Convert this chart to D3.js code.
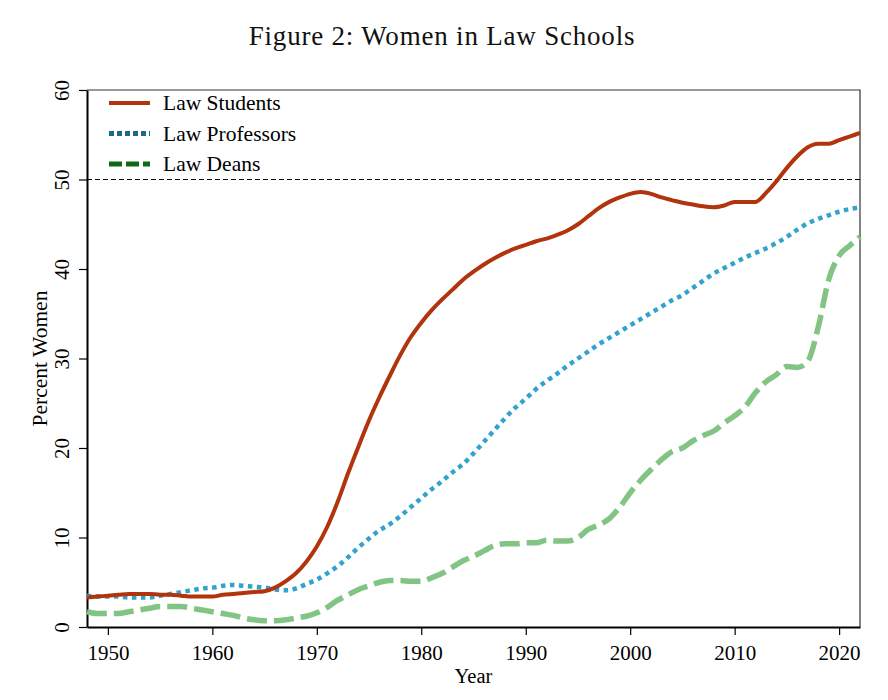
<!DOCTYPE html>
<html>
<head>
<meta charset="utf-8">
<script src="https://cdn.jsdelivr.net/npm/d3@7"></script>
<style>
  body { margin: 0; background: #fff; }
  svg { display: block; font-family: "Liberation Serif", "Times New Roman", serif; }
</style>
</head>
<body>
<div id="chart"></div>
<script>
// years 1948..2022, one value per year (percent women)
const years = d3.range(1948, 2023);

const students = [
  3.3, 3.4, 3.5, 3.6, 3.7, 3.7, 3.7, 3.6, 3.6, 3.5,   // 1948-1957
  3.4, 3.4, 3.4, 3.6, 3.7, 3.8, 3.9, 4.0, 4.4, 5.1,   // 1958-1967
  6.0, 7.3, 9.0, 11.2, 14.0, 17.2, 20.2, 23.1, 25.7, 28.1, // 1968-1977
  30.4, 32.4, 34.0, 35.4, 36.6, 37.7, 38.8, 39.7, 40.5, 41.2, // 1978-1987
  41.8, 42.3, 42.7, 43.1, 43.4, 43.8, 44.3, 45.0, 45.9, 46.8, // 1988-1997
  47.5, 48.0, 48.4, 48.6, 48.4, 48.0, 47.7, 47.4, 47.2, 47.0, // 1998-2007
  46.9, 47.1, 47.5, 47.5, 47.5, 48.5, 49.8, 51.3, 52.6, 53.6, // 2008-2017
  54.0, 54.0, 54.4, 54.8, 55.2                                 // 2018-2022
];

const professors = [
  3.5, 3.4, 3.4, 3.4, 3.3, 3.3, 3.3, 3.5, 3.7, 3.9,
  4.1, 4.3, 4.4, 4.6, 4.7, 4.6, 4.5, 4.4, 4.2, 4.1,
  4.3, 4.8, 5.3, 6.0, 6.8, 7.8, 8.9, 9.9, 10.8, 11.5,
  12.4, 13.4, 14.4, 15.4, 16.3, 17.3, 18.2, 19.4, 20.7, 22.0,
  23.3, 24.5, 25.5, 26.6, 27.5, 28.3, 29.2, 30.0, 30.8, 31.6,
  32.3, 33.0, 33.7, 34.4, 35.1, 35.8, 36.5, 37.1, 37.9, 38.7,
  39.5, 40.1, 40.7, 41.3, 41.8, 42.3, 42.9, 43.6, 44.4, 45.1,
  45.6, 46.0, 46.4, 46.7, 46.9
];

const deans = [
  1.7, 1.5, 1.5, 1.5, 1.7, 1.9, 2.1, 2.3, 2.3, 2.3,
  2.1, 1.9, 1.7, 1.5, 1.3, 1.0, 0.8, 0.7, 0.7, 0.8,
  1.0, 1.2, 1.6, 2.2, 3.0, 3.6, 4.2, 4.6, 5.0, 5.2,
  5.2, 5.1, 5.1, 5.5, 6.0, 6.7, 7.4, 7.9, 8.5, 9.1,
  9.3, 9.3, 9.4, 9.4, 9.7, 9.6, 9.6, 10.0, 10.9, 11.4,
  12.1, 13.4, 15.0, 16.4, 17.6, 18.7, 19.6, 20.0, 20.8, 21.4,
  21.9, 22.8, 23.6, 24.6, 26.2, 27.4, 28.2, 29.1, 29.0, 29.7,
  33.5, 38.8, 41.5, 42.6, 43.6
];

const xTicks = [1950, 1960, 1970, 1980, 1990, 2000, 2010, 2020];
const yTicks = [0, 10, 20, 30, 40, 50, 60];
const seriesNames = ["Law Students", "Law Professors", "Law Deans"];

const W = 888, H = 700;
const margin = { top: 90, right: 28, bottom: 73, left: 87 };
const width = W - margin.left - margin.right;
const height = H - margin.top - margin.bottom;

const x = d3.scaleLinear().domain([1948, 2022]).range([0, width]);
const y = d3.scaleLinear().domain([0, 60]).range([height, 0]);

const svg = d3.select("#chart").append("svg")
  .attr("width", W).attr("height", H);

// title
svg.append("text")
  .attr("x", W / 2 - 2)
  .attr("y", 45)
  .attr("text-anchor", "middle")
  .attr("font-size", "27px")
  .attr("letter-spacing", "0.8px")
  .attr("fill", "#111")
  .text("Figure 2: Women in Law Schools");

const g = svg.append("g")
  .attr("transform", `translate(${margin.left},${margin.top})`);

// frame top / right
g.append("path")
  .attr("d", `M0,0H${width}V${height}`)
  .attr("fill", "none")
  .attr("stroke", "#333")
  .attr("stroke-width", 1.2);

// 50% reference line
g.append("line")
  .attr("x1", 0).attr("x2", width)
  .attr("y1", y(50)).attr("y2", y(50))
  .attr("stroke", "#000")
  .attr("stroke-width", 1)
  .attr("stroke-dasharray", "5,3");

// axes
const xAxis = g.append("g")
  .attr("transform", `translate(0,${height})`)
  .call(d3.axisBottom(x).tickValues(xTicks).tickFormat(d3.format("d"))
    .tickSize(8).tickSizeOuter(0).tickPadding(10));

const yAxis = g.append("g")
  .call(d3.axisLeft(y).tickValues(yTicks).tickSize(8).tickSizeOuter(0));

[xAxis, yAxis].forEach(a => {
  a.select(".domain").attr("stroke", "#000").attr("stroke-width", 2);
  a.selectAll(".tick line").attr("stroke", "#000").attr("stroke-width", 1.2);
  a.selectAll("text")
    .attr("font-family", "Liberation Serif, serif")
    .attr("font-size", "21px")
    .attr("fill", "#000");
});

yAxis.selectAll("text")
  .attr("x", null)
  .attr("dy", null)
  .attr("text-anchor", "middle")
  .attr("transform", "translate(-18,0) rotate(-90)");

// axis titles
g.append("text")
  .attr("x", width / 2)
  .attr("y", height + 56)
  .attr("text-anchor", "middle")
  .attr("font-size", "20.5px")
  .text("Year");

g.append("text")
  .attr("transform", `translate(-40,${height / 2}) rotate(-90)`)
  .attr("text-anchor", "middle")
  .attr("font-size", "21.5px")
  .text("Percent Women");

// series
const line = d3.line()
  .x(d => x(d[0]))
  .y(d => y(d[1]))
  .curve(d3.curveMonotoneX);

const series = [
  { name: seriesNames[0], values: students, color: "#b1340c", legendColor: "#b1340c", width: 4, dash: null, legendDash: null },
  { name: seriesNames[1], values: professors, color: "#32a3cf", legendColor: "#1b6a88", width: 4.5, dash: "4.5,4.5", legendDash: "5,3" },
  { name: seriesNames[2], values: deans, color: "#82c483", legendColor: "#0d6a12", width: 5.5, dash: "20,7", legendDash: "13,4" }
];

// draw deans first, students on top
[series[2], series[1], series[0]].forEach(s => {
  g.append("path")
    .datum(years.map((yr, i) => [yr, s.values[i]]))
    .attr("d", line)
    .attr("fill", "none")
    .attr("stroke", s.color)
    .attr("stroke-width", s.width)
    .attr("stroke-linejoin", "round")
    .attr("stroke-dasharray", s.dash);
});

// legend
const legend = g.append("g").attr("transform", "translate(22,13)");
series.forEach((s, i) => {
  const row = legend.append("g").attr("transform", `translate(0,${i * 30.5})`);
  row.append("line")
    .attr("x1", 0).attr("x2", 41)
    .attr("stroke", s.legendColor)
    .attr("stroke-width", s.width === 4 ? 4 : 5)
    .attr("stroke-dasharray", s.legendDash);
  row.append("text")
    .attr("x", 54)
    .attr("y", 7)
    .attr("font-size", "21.5px")
    .text(s.name);
});
</script>
</body>
</html>
